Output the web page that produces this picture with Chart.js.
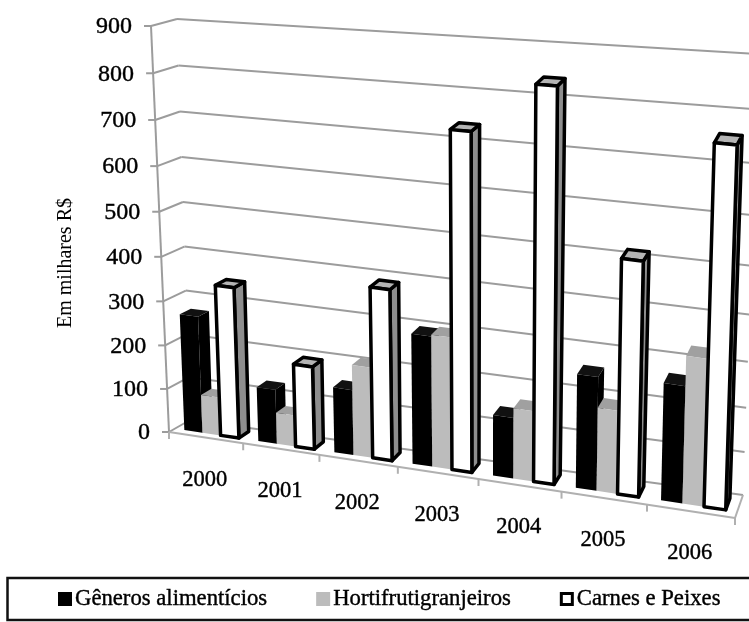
<!DOCTYPE html>
<html>
<head>
<meta charset="utf-8">
<script src="https://cdn.jsdelivr.net/npm/chart.js@4"></script>
<style>
html, body { margin: 0; padding: 0; background: #fff; overflow: hidden; }
canvas { display: block; filter: blur(0.5px); }
</style>
</head>
<body>
<canvas id="chart" width="749" height="622"></canvas>
<script>
var years = ["2000", "2001", "2002", "2003", "2004", "2005", "2006"];
var generos = [267, 125, 150, 296, 140, 258, 265];
var horti = [88, 72, 207, 300, 162, 190, 330];
var carnes = [344, 190, 386, 735, 838, 514, 758];
var yTicks = [0, 100, 200, 300, 400, 500, 600, 700, 800, 900];

var serif = '"Liberation Serif", serif';

// unit square -> quad (corners: bottom left, bottom right, top right, top left)
function quadMap(q) {
    var dx1 = q[1][0] - q[2][0], dx2 = q[3][0] - q[2][0], sx = q[0][0] - q[1][0] + q[2][0] - q[3][0];
    var dy1 = q[1][1] - q[2][1], dy2 = q[3][1] - q[2][1], sy = q[0][1] - q[1][1] + q[2][1] - q[3][1];
    var den = dx1 * dy2 - dx2 * dy1;
    var g = (sx * dy2 - dx2 * sy) / den, h = (dx1 * sy - sx * dy1) / den;
    var a = q[1][0] - q[0][0] + g * q[1][0], b = q[3][0] - q[0][0] + h * q[3][0];
    var d = q[1][1] - q[0][1] + g * q[1][1], e = q[3][1] - q[0][1] + h * q[3][1];
    return function (s, t) {
        var w = g * s + h * t + 1;
        return [(a * s + b * t + q[0][0]) / w, (d * s + e * t + q[0][1]) / w];
    };
}

var frontPlane = quadMap([[169, 432], [735, 518], [749, 72], [151, 26]]);
var backPlane = quadMap([[190, 420], [743, 495], [759, 54], [177, 19]]);
var barFront = 0.28, barBack = 0.78;

function project(chart, px, py, depth) {
    var area = chart.chartArea;
    var s = (px - area.left) / (area.right - area.left);
    var t = (area.bottom - py) / (area.bottom - area.top);
    // the reference squeezes the lower rows towards the right
    t = t - 0.09 * s * t * (1 - t);
    var f = frontPlane(s, t), b = backPlane(s, t);
    return [f[0] + (b[0] - f[0]) * depth, f[1] + (b[1] - f[1]) * depth];
}

function poly(ctx, pts) {
    ctx.beginPath();
    ctx.moveTo(pts[0][0], pts[0][1]);
    for (var i = 1; i < pts.length; i++) ctx.lineTo(pts[i][0], pts[i][1]);
    ctx.closePath();
}

function line(ctx, a, b) {
    ctx.beginPath();
    ctx.moveTo(a[0], a[1]);
    ctx.lineTo(b[0], b[1]);
    ctx.stroke();
}

function heavyText(ctx, text, x, y) {
    ctx.fillText(text, x, y);
    ctx.strokeText(text, x, y);
}

function drawFrame(chart) {
    var ctx = chart.ctx, area = chart.chartArea, y = chart.scales.y;
    ctx.save();
    ctx.strokeStyle = "#9c9c9c";
    ctx.lineWidth = 2;
    y.ticks.forEach(function (tick) {
        var py = y.getPixelForValue(tick.value);
        var front = project(chart, area.left, py, 0);
        var back = project(chart, area.left, py, 1);
        var end = project(chart, area.right, py, 1);
        line(ctx, [front[0] - 7, front[1]], front);
        line(ctx, front, back);
        line(ctx, back, end);
    });
    line(ctx, project(chart, area.left, area.top, 0), project(chart, area.left, area.bottom, 0));
    // floor front edge and its ticks
    ctx.strokeStyle = "#b0b0b0";
    line(ctx, project(chart, area.left, area.bottom, 0), project(chart, area.right, area.bottom, 0));
    line(ctx, project(chart, area.right, area.bottom, 0), project(chart, area.right, area.bottom, 1));
    for (var i = 0; i <= years.length; i++) {
        var edge = area.left + (area.right - area.left) * i / years.length;
        var p = project(chart, edge, area.bottom, 0);
        line(ctx, p, [p[0], p[1] + 7]);
    }
    ctx.restore();
}

function drawBars(chart) {
    var ctx = chart.ctx, bottom = chart.chartArea.bottom;
    ctx.save();
    ctx.lineJoin = "round";
    years.forEach(function (year, i) {
        chart.data.datasets.forEach(function (ds, k) {
            var el = chart.getDatasetMeta(k).data[i];
            var l = el.x - el.width / 2, r = el.x + el.width / 2;
            var fbl = project(chart, l, bottom, barFront), fbr = project(chart, r, bottom, barFront);
            var ftl = project(chart, l, el.y, barFront), ftr = project(chart, r, el.y, barFront);
            var bbr = project(chart, r, bottom, barBack), btr = project(chart, r, el.y, barBack);
            var btl = project(chart, l, el.y, barBack);
            var faces = [
                [[fbr, bbr, btr, ftr], ds.sideColor],
                [[ftl, ftr, btr, btl], ds.topColor],
                [[fbl, fbr, ftr, ftl], ds.backgroundColor]
            ];
            faces.forEach(function (face) {
                poly(ctx, face[0]);
                ctx.fillStyle = face[1];
                ctx.fill();
                if (ds.borderWidth) {
                    ctx.strokeStyle = ds.borderColor;
                    ctx.lineWidth = ds.borderWidth;
                    ctx.stroke();
                }
            });
        });
    });
    ctx.restore();
}

function drawTickLabels(chart) {
    var ctx = chart.ctx, area = chart.chartArea, x = chart.scales.x, y = chart.scales.y;
    ctx.save();
    ctx.fillStyle = "#000";
    ctx.strokeStyle = "#000";
    ctx.lineWidth = 0.4;
    ctx.font = "24px " + serif;
    ctx.textBaseline = "middle";
    ctx.textAlign = "right";
    y.ticks.forEach(function (tick) {
        var p = project(chart, area.left, y.getPixelForValue(tick.value), 0);
        heavyText(ctx, tick.label, p[0] - 19, p[1] + 1);
    });
    ctx.font = "22.5px " + serif;
    ctx.textAlign = "center";
    years.forEach(function (year, i) {
        var p = project(chart, x.getPixelForValue(i), area.bottom, 0);
        heavyText(ctx, year, p[0] - 1, p[1] + 42);
    });
    ctx.restore();
}

function drawLegend(chart) {
    var ctx = chart.ctx;
    ctx.save();
    ctx.strokeStyle = "#111";
    ctx.lineWidth = 2.5;
    ctx.strokeRect(7.5, 578, 780, 42);
    ctx.font = "22.7px " + serif;
    ctx.textBaseline = "middle";
    ctx.textAlign = "left";
    var cx = 58;
    chart.data.datasets.forEach(function (ds) {
        ctx.fillStyle = ds.backgroundColor;
        ctx.fillRect(cx, 592, 14, 14);
        if (ds.borderWidth) {
            ctx.strokeStyle = ds.borderColor;
            ctx.lineWidth = 3;
            ctx.strokeRect(cx + 1.5, 593.5, 11, 11);
        }
        ctx.fillStyle = "#000";
        ctx.strokeStyle = "#000";
        ctx.lineWidth = 0.4;
        heavyText(ctx, ds.label, cx + 17, 599);
        cx += 17 + ctx.measureText(ds.label).width + 49;
    });
    ctx.restore();
}

var perspective = {
    id: "perspective",
    beforeDatasetsDraw: function (chart) {
        drawFrame(chart);
        drawBars(chart);
        drawTickLabels(chart);
        drawLegend(chart);
        return false;
    }
};

new Chart(document.getElementById("chart"), {
    type: "bar",
    data: {
        labels: years,
        datasets: [
            { label: "Gêneros alimentícios", data: generos, backgroundColor: "#000000", sideColor: "#000000", topColor: "#111111", borderWidth: 0 },
            { label: "Hortifrutigranjeiros", data: horti, backgroundColor: "#bcbcbc", sideColor: "#a8a8a8", topColor: "#a0a0a0", borderWidth: 0 },
            { label: "Carnes e Peixes", data: carnes, backgroundColor: "#ffffff", sideColor: "#8e8e8e", topColor: "#b4b4b4", borderColor: "#000000", borderWidth: 3.5 }
        ]
    },
    options: {
        responsive: false,
        animation: false,
        layout: { padding: { left: 54, right: 0, top: 70, bottom: 158 } },
        plugins: { legend: { display: false }, tooltip: { enabled: false } },
        datasets: { bar: { categoryPercentage: 0.74, barPercentage: 1 } },
        scales: {
            x: { grid: { display: false }, border: { display: false }, ticks: { display: false } },
            y: {
                min: 0,
                max: 900,
                afterBuildTicks: function (axis) {
                    axis.ticks = yTicks.map(function (v) { return { value: v, label: String(v) }; });
                },
                grid: { display: false },
                border: { display: false },
                ticks: { display: false },
                title: { display: true, text: "Em milhares R$", color: "#000", font: { family: serif, size: 20 }, padding: 0 }
            }
        }
    },
    plugins: [perspective]
});
</script>
</body>
</html>
